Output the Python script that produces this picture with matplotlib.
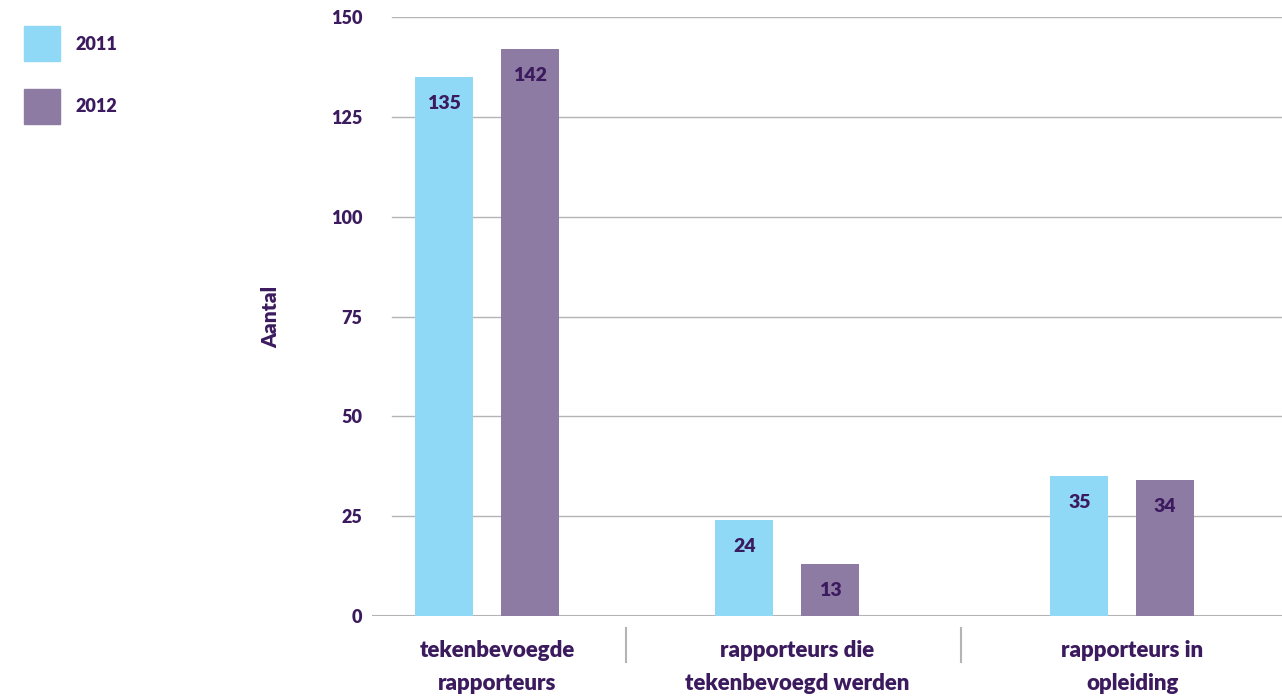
import matplotlib
matplotlib.use("Agg")
import matplotlib.pyplot as plt
from matplotlib.patches import Rectangle
import matplotlib.transforms as mtransforms

plt.rcParams['font.family'] = ['Lato', 'DejaVu Sans']

categories = ["tekenbevoegde\nrapporteurs", "rapporteurs die\ntekenbevoegd werden", "rapporteurs in\nopleiding"]
years = ["2011", "2012"]
values_2011 = [135, 24, 35]
values_2012 = [142, 13, 34]
yticks = [0, 25, 50, 75, 100, 125, 150]

c2011 = "#8fd9f6"
c2012 = "#8e7ba3"
txt = "#3b1a5e"
grid = "#b4b4b4"
fw = 'heavy'

W, H = 1282, 698
fig = plt.figure(figsize=(W / 100, H / 100), dpi=100)
ax = fig.add_axes([372 / W, (H - 616) / H, (W - 372) / W, 599 / H])

# group centres (in units of group spacing), slightly uneven like the original
pos = [0.0, 0.896, 1.896]
bw = 0.173
off = 0.128
b1 = ax.bar([p - off for p in pos], values_2011, bw, color=c2011, zorder=3)
b2 = ax.bar([p + off for p in pos], values_2012, bw, color=c2012, zorder=3)
for bars in (b1, b2):
    ax.bar_label(bars, padding=-25, fontsize=14, fontweight=fw, color=txt, zorder=4)

ax.set_xlim((372 - 487) / 335, (1282 - 487) / 335)
ax.set_ylim(0, 150)
for spine in ax.spines.values():
    spine.set_visible(False)

for t in yticks[1:]:
    ax.axhline(t, xmin=20 / 910, xmax=1, color=grid, lw=1, zorder=1)
ax.axhline(0, color=grid, lw=1.5, zorder=2)

ax.set_xticks([])
ax.set_yticks(yticks)
ax.set_yticklabels([str(t) for t in yticks], fontsize=13, fontweight=fw, color=txt)
ax.tick_params(axis='y', length=0, pad=7)

ax.set_ylabel("Aantal", fontsize=15, fontweight=fw, color=txt)
ax.yaxis.set_label_coords(-0.101, 0.5)

trans = mtransforms.blended_transform_factory(ax.transData, ax.transAxes)
for p, lab in zip(pos, categories):
    ax.text(p + 0.03, -0.04, lab, transform=trans, ha='center', va='top',
            fontsize=16, fontweight=fw, color=txt, linespacing=1.7)
for sx in [(626 - 487) / 335, (961 - 487) / 335]:
    ax.plot([sx, sx], [-12 / 599, -46 / 599], transform=trans, color=grid, lw=1.5, clip_on=False)

# legend
for i, (yr, col) in enumerate(zip(years, [c2011, c2012])):
    top = 26 + i * 63
    fig.add_artist(Rectangle((24 / W, 1 - (top + 35) / H), 36 / W, 35 / H,
                             transform=fig.transFigure, color=col))
    fig.text(76 / W, 1 - (top + 18) / H, yr, ha='left', va='center',
             fontsize=13, fontweight=fw, color=txt)

fig.savefig("out.png", dpi=100)
